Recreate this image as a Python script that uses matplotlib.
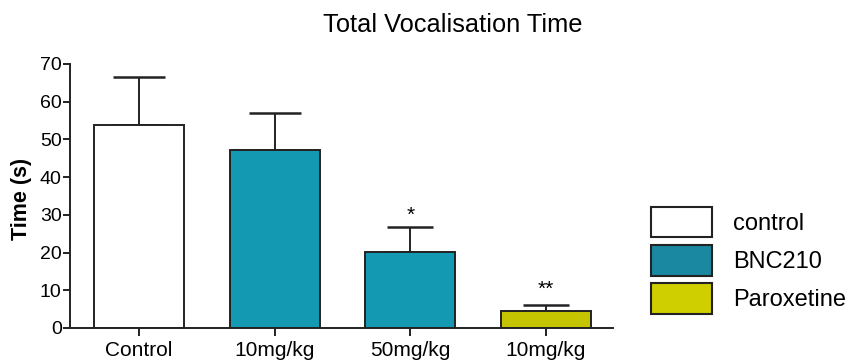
import matplotlib
matplotlib.use("Agg")
import matplotlib.pyplot as plt
from matplotlib.patches import Patch

plt.rcParams['font.family'] = ['Liberation Sans', 'DejaVu Sans']

# data
categories = ["Control", "10mg/kg", "50mg/kg", "10mg/kg"]
means = [53.8, 47.2, 20.1, 4.6]
sems = [12.8, 9.7, 6.6, 1.4]
significance = ["", "", "*", "**"]
legend_labels = ["control", "BNC210", "Paroxetine"]
yticks = [0, 10, 20, 30, 40, 50, 60, 70]

# styles
bar_colors = ["#FFFFFF", "#1399B1", "#1399B1", "#C4C400"]
legend_colors = ["#FFFFFF", "#1A88A0", "#CFCF00"]
edge = "#222222"
cap_pts = [18.7, 18.7, 16.4, 16.5]
star_offsets = [0, 0, 1.5, 5]

fig = plt.figure(figsize=(8.56, 3.6), dpi=100)
ax = fig.add_axes([70/856, 1-328/360, (613-70)/856, (328-64)/360])

x = list(range(len(categories)))
ax.bar(x, means, width=0.663, color=bar_colors, edgecolor=edge, linewidth=1.4, zorder=2)
for xi, m, s, c in zip(x, means, sems, cap_pts):
    ax.errorbar([xi], [m], yerr=[[0], [s]], fmt='none', ecolor=edge,
                elinewidth=1.4, capsize=c, capthick=1.8, zorder=1)
for xi, m, s, lab, off in zip(x, means, sems, significance, star_offsets):
    if lab:
        ax.annotate(lab, (xi, m + s), xytext=(0, off), textcoords='offset points',
                    ha='center', va='bottom', fontsize=15, color='black')

ax.set_xlim(-0.508, 3.494)
ax.set_ylim(0, 70)
ax.set_yticks(yticks)
ax.set_xticks(x)
ax.set_xticklabels(categories, fontsize=15)
ax.tick_params(axis='y', labelsize=14, length=5, width=1.4, color=edge, pad=1)
ax.tick_params(axis='x', length=6, width=1.4, color=edge, pad=3)
for sp in ['top', 'right']:
    ax.spines[sp].set_visible(False)
for sp in ['left', 'bottom']:
    ax.spines[sp].set_color(edge)
    ax.spines[sp].set_linewidth(1.4)

fig.text(453/856, 1-32/360, "Total Vocalisation Time", ha='center', va='baseline', fontsize=18.3)
fig.text(22/856, 1-198.5/360, "Time (s)", rotation=90, ha='center', va='center',
         fontsize=15.5, fontweight='bold')

handles = [Patch(facecolor=c, edgecolor=edge, linewidth=1.5) for c in legend_colors]
fig.legend(handles, legend_labels, loc='upper left', bbox_to_anchor=(651/856, 1-207/360),
           frameon=False, fontsize=17, borderpad=0, borderaxespad=0,
           handlelength=2.58, handleheight=1.61, labelspacing=0.32, handletextpad=0.89)

fig.savefig("out.png", dpi=100)
